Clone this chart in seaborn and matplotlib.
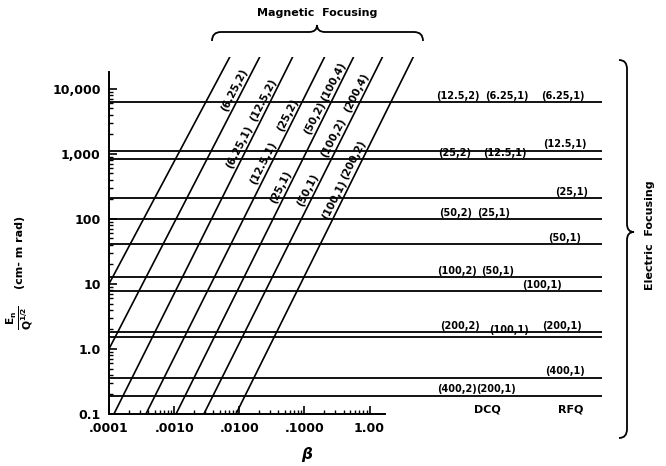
import numpy as np
import pandas as pd
import matplotlib
matplotlib.use("Agg")
import matplotlib.pyplot as plt
import matplotlib.transforms as mtransforms
from matplotlib.path import Path
from matplotlib.patches import PathPatch
from matplotlib.ticker import FixedLocator, NullFormatter
import seaborn as sns

# ---- data ----
# diagonal (magnetic focusing) lines: lower and upper end points
diag_beta_low = [1.0e-4, 1.0e-4, 1.19e-4, 3.69e-4, 1.07e-3, 2.86e-3, 8.9e-3]
diag_emit_low = [10.0, 1.0, 0.1, 0.1, 0.1, 0.1, 0.1]
diag_beta_high = [0.00715, 0.0206, 0.066, 0.204, 0.569, 1.58, 4.7]
diag_emit_high = [30900, 30900, 30900, 30900, 30900, 30900, 30900]

# labels on the diagonal lines: text, line index, emittance level
diag_labels = ["(6.25,2)", "(12.5,2)", "(6.25,1)", "(25,2)", "(12.5,1)",
               "(50,2)", "(100,4)", "(25,1)", "(200,4)", "(100,2)", "(50,1)",
               "(200,2)", "(100,1)"]
diag_label_line = [1, 2, 2, 3, 3, 4, 4, 4, 5, 5, 5, 6, 6]
diag_label_level = [9700, 6800, 1280, 4000, 730, 3570, 13000, 310, 8700,
                    1780, 280, 800, 195]

# horizontal (electric focusing) lines
emit_levels = [6200, 1120, 830, 210, 100, 41, 12.8, 7.8, 1.82, 1.55, 0.36, 0.19]

# labels sitting on the horizontal lines
h_labels = ["(12.5,2)", "(6.25,1)", "(6.25,1)",
            "(12.5,1)", "(25,2)", "(12.5,1)",
            "(25,1)", "(50,2)", "(25,1)", "(50,1)",
            "(100,2)", "(50,1)", "(100,1)",
            "(200,2)", "(200,1)", "(100,1)",
            "(400,1)", "(400,2)", "(200,1)"]
h_label_level = [6200, 6200, 6200,
                 1120, 830, 830,
                 210, 100, 100, 41,
                 12.8, 12.8, 7.8,
                 1.82, 1.82, 1.55,
                 0.36, 0.19, 0.19]
h_label_x = [458, 507, 563,
             565, 455, 505,
             572, 456, 494, 565,
             457, 498, 542,
             460, 562, 509,
             565, 457, 496]

x_ticks = [1e-4, 1e-3, 1e-2, 1e-1, 1.0]
x_tick_labels = [".0001", ".0010", ".0100", ".1000", "1.00"]
y_ticks = [0.1, 1, 10, 100, 1000, 10000]
y_tick_labels = ["0.1", "1.0", "10", "100", "1,000", "10,000"]

# ---- figure ----
sns.set_style("ticks")
plt.rcParams["font.family"] = ["DejaVu Sans"]
plt.rcParams["font.weight"] = "bold"
plt.rcParams["text.color"] = "black"
plt.rcParams["xtick.color"] = "black"
plt.rcParams["ytick.color"] = "black"
plt.rcParams["axes.edgecolor"] = "black"

W, H = 666, 466
fig = plt.figure(figsize=(W / 100, H / 100), dpi=100)
ax = fig.add_axes([109 / W, (H - 414) / H, (602 - 109) / W, (414 - 57) / H])

rows = []
for i in range(len(diag_beta_low)):
    rows.append({"line": i, "beta": diag_beta_low[i], "emit": diag_emit_low[i]})
    rows.append({"line": i, "beta": diag_beta_high[i], "emit": diag_emit_high[i]})
df = pd.DataFrame(rows)

sns.lineplot(data=df, x="beta", y="emit", units="line", estimator=None,
             color="black", linewidth=1.2, ax=ax, legend=False)

for lev in emit_levels:
    ax.axhline(lev, color="black", linewidth=1.3)

ax.set_xscale("log")
ax.set_yscale("log")
ax.set_xlim(1e-4, 10 ** 3.57)
ax.set_ylim(0.1, 10 ** 4.49)

# spines and ticks
sns.despine(ax=ax, top=True, right=True)
ax.spines["bottom"].set_bounds(1e-4, 1.76)
ax.spines["left"].set_bounds(0.1, 18000)
for s in ["bottom", "left"]:
    ax.spines[s].set_linewidth(1.4)

ax.xaxis.set_major_locator(FixedLocator(x_ticks))
ax.set_xticklabels(x_tick_labels)
xminor = [m * 10.0 ** e for e in range(-4, 0) for m in range(2, 10)]
ax.xaxis.set_minor_locator(FixedLocator(xminor))
ax.xaxis.set_minor_formatter(NullFormatter())

ax.yaxis.set_major_locator(FixedLocator(y_ticks))
ax.set_yticklabels(y_tick_labels)
yminor = [m * 10.0 ** e for e in range(-1, 5) for m in range(2, 10)]
ax.yaxis.set_minor_locator(FixedLocator([v for v in yminor if v <= 18000]))
ax.yaxis.set_minor_formatter(NullFormatter())

ax.tick_params(which="major", direction="in", length=6, width=1.2,
               labelsize=9, pad=6, colors="black")
ax.tick_params(which="minor", direction="in", length=3, width=1.0,
               colors="black")
for lab in ax.get_xticklabels() + ax.get_yticklabels():
    lab.set_fontweight("bold")

ax.set_xlabel("")
ax.set_ylabel("")

# labels along the diagonals
for txt, li, lev in zip(diag_labels, diag_label_line, diag_label_level):
    b0, b1 = np.log10(diag_beta_low[li]), np.log10(diag_beta_high[li])
    e0, e1 = np.log10(diag_emit_low[li]), np.log10(diag_emit_high[li])
    lb = b0 + (np.log10(lev) - e0) * (b1 - b0) / (e1 - e0)
    ax.annotate(txt, xy=(10 ** lb, lev), xytext=(-6, 0),
                textcoords="offset points", rotation=63, ha="center",
                va="center", fontsize=7.5, fontweight="bold")

# labels on the horizontal lines
blend = mtransforms.blended_transform_factory(ax.transAxes, ax.transData)
for txt, lev, px in zip(h_labels, h_label_level, h_label_x):
    ax.annotate(txt, xy=((px - 109) / 493, lev), xycoords=blend,
                xytext=(0, 1), textcoords="offset points", ha="center",
                va="bottom", fontsize=7, fontweight="bold")

for txt, px in [("DCQ", 487), ("RFQ", 571)]:
    fig.text(px / W, 1 - 410 / H, txt, ha="center", va="center",
             fontsize=8, fontweight="bold")

# axis labels
fig.text(307 / W, 1 - 455 / H, r"$\beta$", ha="center", va="center",
         fontsize=11)
fig.text(20 / W, 1 - 318 / H, r"$\mathbf{\frac{E_n}{Q^{1/2}}}$",
         rotation=90, ha="center", va="center", fontsize=11)
fig.text(20 / W, 1 - 252 / H, "(cm- m rad)",
         rotation=90, ha="center", va="center", fontsize=8,
         fontweight="bold")

fig.text(317 / W, 1 - 13 / H, "Magnetic  Focusing", ha="center",
         va="center", fontsize=8, fontweight="bold")
fig.text(650 / W, 1 - 235 / H, "Electric  Focusing", rotation=90,
         ha="center", va="center", fontsize=8, fontweight="bold")


# braces, drawn in image pixel coordinates
def brace(points, codes):
    verts = [(x / W, 1 - y / H) for x, y in points]
    patch = PathPatch(Path(verts, codes), transform=fig.transFigure,
                      facecolor="none", edgecolor="black", linewidth=1.3)
    fig.add_artist(patch)


M, L, C = Path.MOVETO, Path.LINETO, Path.CURVE3
brace([(212, 41), (212, 32), (221, 32), (309, 32), (317, 32), (317, 25),
       (317, 32), (325, 32), (414, 32), (423, 32), (423, 41)],
      [M, C, C, L, C, C, C, C, L, C, C])
brace([(619, 60), (627, 60), (627, 69), (627, 224), (627, 232), (634, 232),
       (627, 232), (627, 240), (627, 429), (627, 438), (619, 438)],
      [M, C, C, L, C, C, C, C, L, C, C])

fig.savefig("out.png", dpi=100)
